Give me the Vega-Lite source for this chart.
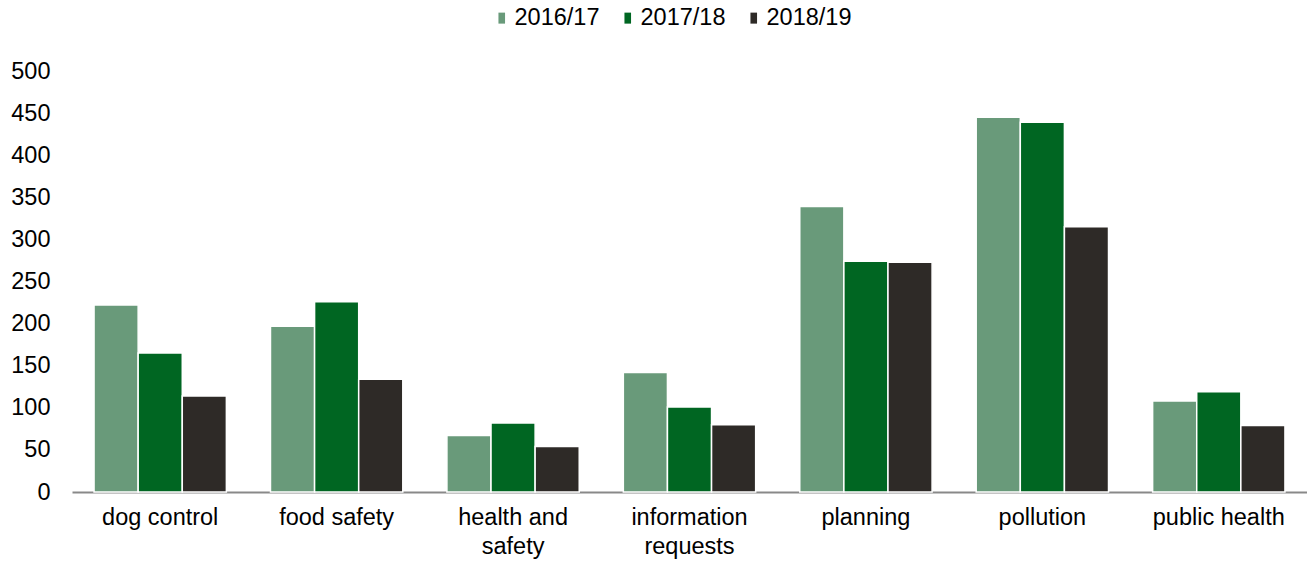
{
  "$schema": "https://vega.github.io/schema/vega-lite/v6.json",
  "width": 1235,
  "height": 421,
  "autosize": "none",
  "padding": {"left": 72, "top": 71, "right": 0, "bottom": 69},
  "config": {
    "view": {"stroke": null},
    "font": "Liberation Sans",
    "axis": {"labelFont": "Liberation Sans", "labelColor": "#000000"},
    "legend": {"labelFont": "Liberation Sans"}
  },
  "data": {
    "values": [
      {"category": "dog control", "year": "2016/17", "value": 222},
      {"category": "dog control", "year": "2017/18", "value": 165},
      {"category": "dog control", "year": "2018/19", "value": 114},
      {"category": "food safety", "year": "2016/17", "value": 197},
      {"category": "food safety", "year": "2017/18", "value": 226},
      {"category": "food safety", "year": "2018/19", "value": 134},
      {"category": "health and safety", "year": "2016/17", "value": 67},
      {"category": "health and safety", "year": "2017/18", "value": 82},
      {"category": "health and safety", "year": "2018/19", "value": 54},
      {"category": "information requests", "year": "2016/17", "value": 142},
      {"category": "information requests", "year": "2017/18", "value": 101},
      {"category": "information requests", "year": "2018/19", "value": 80},
      {"category": "planning", "year": "2016/17", "value": 339},
      {"category": "planning", "year": "2017/18", "value": 274},
      {"category": "planning", "year": "2018/19", "value": 273},
      {"category": "pollution", "year": "2016/17", "value": 445},
      {"category": "pollution", "year": "2017/18", "value": 439},
      {"category": "pollution", "year": "2018/19", "value": 315},
      {"category": "public health", "year": "2016/17", "value": 108},
      {"category": "public health", "year": "2017/18", "value": 119},
      {"category": "public health", "year": "2018/19", "value": 79}
    ]
  },
  "mark": {"type": "bar", "stroke": "#ffffff", "strokeWidth": 1.5},
  "encoding": {
    "x": {
      "field": "category",
      "type": "nominal",
      "sort": null,
      "scale": {"paddingInner": 0.25, "paddingOuter": 0.125},
      "axis": {
        "title": null,
        "labelAngle": 0,
        "ticks": false,
        "domainColor": "#898989",
        "domainWidth": 2,
        "labelFontSize": 23.5,
        "labelPadding": 13,
        "labelLineHeight": 29,
        "labelExpr": "datum.label == 'health and safety' ? ['health and', 'safety'] : datum.label == 'information requests' ? ['information', 'requests'] : datum.label"
      }
    },
    "xOffset": {"field": "year", "type": "nominal", "sort": ["2016/17", "2017/18", "2018/19"], "scale": {"paddingInner": 0}},
    "y": {
      "field": "value",
      "type": "quantitative",
      "scale": {"domain": [0, 500]},
      "axis": {
        "title": null,
        "values": [0, 50, 100, 150, 200, 250, 300, 350, 400, 450, 500],
        "domain": false,
        "ticks": false,
        "grid": false,
        "labelFontSize": 23.5,
        "labelPadding": 22
      }
    },
    "color": {
      "field": "year",
      "type": "nominal",
      "scale": {"domain": ["2016/17", "2017/18", "2018/19"], "range": ["#699a7a", "#006622", "#2e2a27"]},
      "legend": {
        "title": null,
        "orient": "none",
        "direction": "horizontal",
        "legendX": 418,
        "legendY": -65,
        "symbolType": "M-0.6,-1H0.6V1H-0.6Z",
        "symbolSize": 121,
        "symbolStrokeWidth": 0,
        "labelFontSize": 23.5,
        "labelOffset": 1,
        "columnPadding": 16
      }
    }
  }
}
